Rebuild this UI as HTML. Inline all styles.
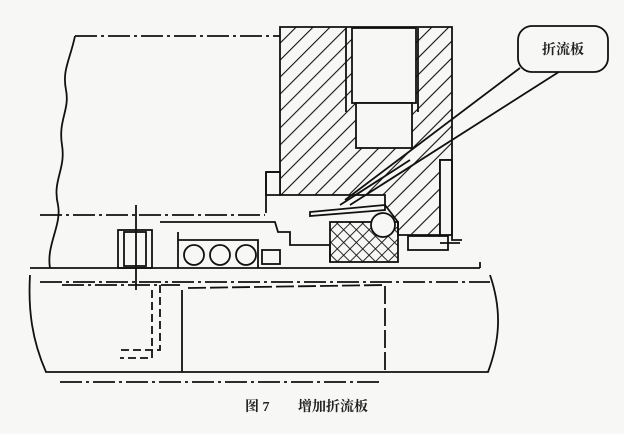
<!DOCTYPE html>
<html><head><meta charset="utf-8"><style>
html,body{margin:0;padding:0;background:#f7f7f5;}
svg{display:block}
text{font-family:"Liberation Serif","Noto Serif CJK SC",serif;}
</style></head><body>
<svg width="624" height="434" viewBox="0 0 624 434" xmlns="http://www.w3.org/2000/svg">
<defs>
<pattern id="h" width="12" height="12" patternUnits="userSpaceOnUse" patternTransform="rotate(45)">
<line x1="0" y1="0" x2="0" y2="12" stroke="#111" stroke-width="2.2"/></pattern>
<pattern id="x" width="9" height="9" patternUnits="userSpaceOnUse" patternTransform="rotate(45)">
<line x1="0" y1="0" x2="0" y2="9" stroke="#111" stroke-width="1.8"/><line x1="0" y1="0" x2="9" y2="0" stroke="#111" stroke-width="1.8"/></pattern>
</defs>
<g fill="none" stroke="#111" stroke-width="1.8">
<line x1="75" y1="36" x2="280" y2="36" stroke-dasharray="22 4 3 4"/>
<path d="M75 36 C70 60 62 70 66 90 C70 110 58 120 62 145 C66 170 52 180 58 205 C62 225 46 245 50 268"/>
<line x1="40" y1="215" x2="265" y2="215" stroke-dasharray="22 4 3 4"/>
<path d="M280 27 L452 27 L452 160 L440 160 L440 235 L398 235 L398 222 L385 205 L385 195 L280 195 Z" fill="url(#h)"/>
<path d="M266 172 L280 172 L280 195 L266 195 Z" fill="#f7f7f5"/>
<line x1="266" y1="172" x2="266" y2="213"/>
<line x1="266" y1="172" x2="280" y2="172"/>
<rect x="352" y="28" width="64" height="75" fill="#f7f7f5"/>
<rect x="356" y="103" width="56" height="45" fill="#f7f7f5"/>
<line x1="346" y1="28" x2="346" y2="112"/><line x1="418" y1="28" x2="418" y2="112"/>
<rect x="440" y="160" width="12" height="75" fill="#f7f7f5"/>
<path d="M452 160 L452 240 L462 240"/>
<path d="M310 212 L385 205 L385 210 L310 216 Z" fill="#f7f7f5"/>
<line x1="340" y1="205" x2="410" y2="160"/>
<path d="M520 68 L345 200"/><path d="M565 68 L350 205"/>
<rect x="518" y="26" width="90" height="46" rx="14" fill="#f7f7f5"/>
<rect x="330" y="222" width="68" height="40" fill="url(#x)"/>
<circle cx="383" cy="225" r="12" fill="#f7f7f5"/>
<rect x="408" y="236" width="40" height="14"/>
<line x1="440" y1="243" x2="460" y2="243"/>
<path d="M160 222 L275 222 L278 232 L290 232 L290 245 L330 245 L330 262"/>
<path d="M178 232 L178 268 M178 240 L258 240 L258 268"/>
<circle cx="194" cy="255" r="10"/><circle cx="220" cy="255" r="10"/><circle cx="246" cy="255" r="10"/>
<rect x="262" y="250" width="18" height="14"/>
<rect x="118" y="230" width="34" height="38"/>
<rect x="124" y="232" width="22" height="34"/>
<line x1="136" y1="205" x2="136" y2="290"/>
<line x1="30" y1="268" x2="480" y2="268"/>
<path d="M480 262 L480 268"/>
<line x1="40" y1="282" x2="490" y2="282" stroke-dasharray="22 4 3 4"/>
<path d="M30 275 C28 310 32 340 46 372 L488 372 C500 340 502 310 490 275"/>
<line x1="62" y1="285" x2="180" y2="285" stroke-dasharray="22 4 3 4"/>
<path d="M182 290 L182 372"/>
<path d="M188 288 L385 285 L385 372" stroke-dasharray="18 4"/>
<path d="M160 285 L160 350 L120 350" stroke-dasharray="8 4"/>
<path d="M152 290 L152 358 L120 358" stroke-dasharray="8 4"/>
<line x1="60" y1="382" x2="380" y2="382" stroke-dasharray="22 4 3 4"/>
</g>
<text x="563" y="54" font-size="14" text-anchor="middle" font-weight="bold" fill="#222">折流板</text>
<text x="245" y="411" font-size="14" font-weight="bold" fill="#222">图 7</text>
<text x="298" y="411" font-size="14" font-weight="bold" fill="#222">增加折流板</text>
</svg>
</body></html>
